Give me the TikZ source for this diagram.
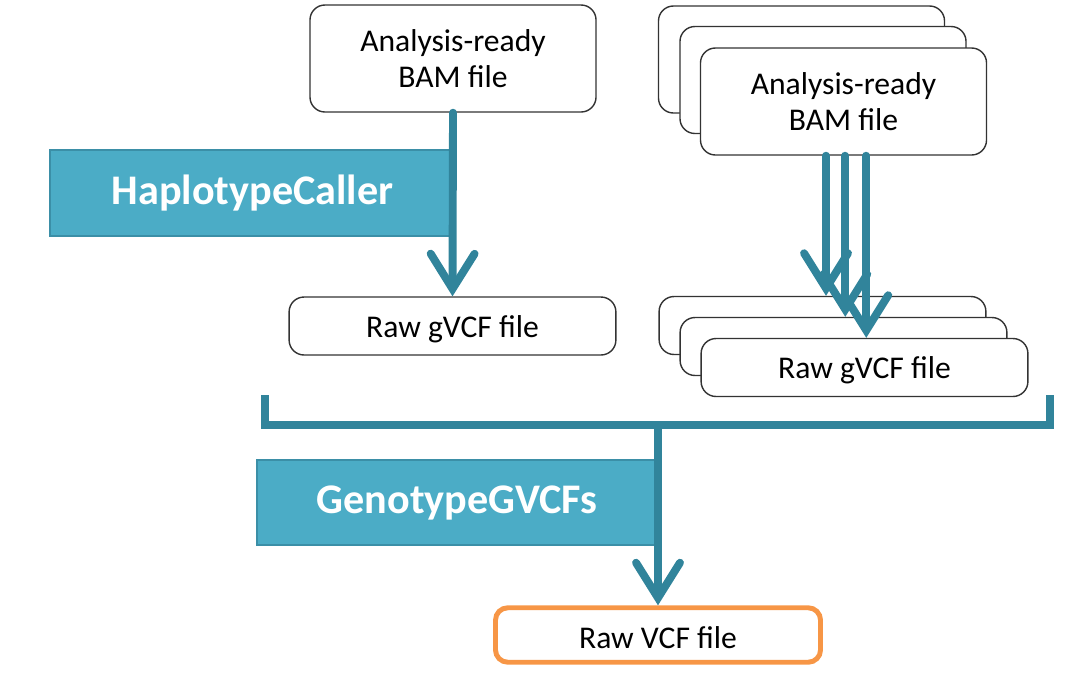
\documentclass[tikz,border=0pt]{standalone}
\usepackage{fontspec}
\setmainfont{Carlito}
\usepackage{tikz}
\usetikzlibrary{arrows.meta}

\definecolor{barfill}{HTML}{4BACC6}
\definecolor{barline}{HTML}{3B8FA7}
\definecolor{flowcol}{HTML}{31849B}
\definecolor{vcfline}{HTML}{F79646}

\begin{document}
\begin{tikzpicture}[
      x=0.02cm, y=-0.02cm,
      filebox/.style={draw=black!80,line width=0.8pt,fill=white,rounded corners=8.5pt,
        inner sep=0pt,align=center,font=\fontsize{18}{20.5}\selectfont},
      bambox/.style={filebox,minimum width=162.8pt,minimum height=60.9pt,text depth=-3.6pt},
      gvcfbox/.style={filebox,minimum width=186pt,minimum height=33pt,text height=16pt},
      toolbar/.style={draw=barline,line width=1.1pt,fill=barfill,inner sep=0pt,
        text=white,font=\fontsize{24}{26}\selectfont\bfseries},
      flow/.style={draw=flowcol,line width=4.5pt,line cap=round,
        -{Straight Barb[length=20pt,width=25pt,line cap=round]}},
      bracket/.style={draw=flowcol,line width=4.5pt,line join=miter}
    ]
    \useasboundingbox (0,0) rectangle (1067,684);
    % Draw the tool bars.
    \node[toolbar,minimum width=230.5pt,minimum height=49pt] (hc) at (252.5,193) {HaplotypeCaller};
    \node[toolbar,minimum width=227.7pt,minimum height=48.4pt] (gg) at (457,502.5) {GenotypeGVCFs};
    % Draw the single sample files.
    \node[bambox] (bam) at (453,58.5) {Analysis-ready\\BAM file};
    \node[gvcfbox] (gvcf) at (452.5,326) {Raw gVCF file};
    % Draw the stacked sample files.
    \node[bambox] (bamA) at (801.5,59.5) {};
    \node[bambox] (bamB) at (823,80) {};
    \node[bambox] (bamC) at (843.5,101.5) {Analysis-ready\\BAM file};
    \node[gvcfbox] (gvcfA) at (822.5,325.5) {};
    \node[gvcfbox] (gvcfB) at (843.5,346.5) {};
    \node[gvcfbox] (gvcfC) at (864.5,367.5) {Raw gVCF file};
    % Draw the final file.
    \node[filebox,draw=vcfline,line width=2.8pt,rounded corners=7pt,text height=15pt,
      minimum width=185pt,minimum height=31pt] (vcf) at (658,635) {Raw VCF file};
    % Draw the transitions.
    \draw[flow] (bam.south) -- (gvcf.north);
    \draw[flow] ([xshift=2pt]bamC.south -| gvcfA.north) -- ([xshift=2pt]gvcfA.north);
    \draw[flow] ([xshift=1pt]bamC.south -| gvcfB.north) -- ([xshift=1pt]gvcfB.north);
    \draw[flow] ([xshift=1pt]bamC.south -| gvcfC.north) -- ([xshift=1pt]gvcfC.north);
    % Draw the merge bracket.
    \coordinate (brL) at (265,395);
    \coordinate (brR) at (1050,395);
    \coordinate (join) at (vcf.north |- 0,425);
    \draw[bracket] (brL) |- (join) -| (brR);
    \draw[flow] (join) -- (vcf.north);
\end{tikzpicture}
\end{document}
